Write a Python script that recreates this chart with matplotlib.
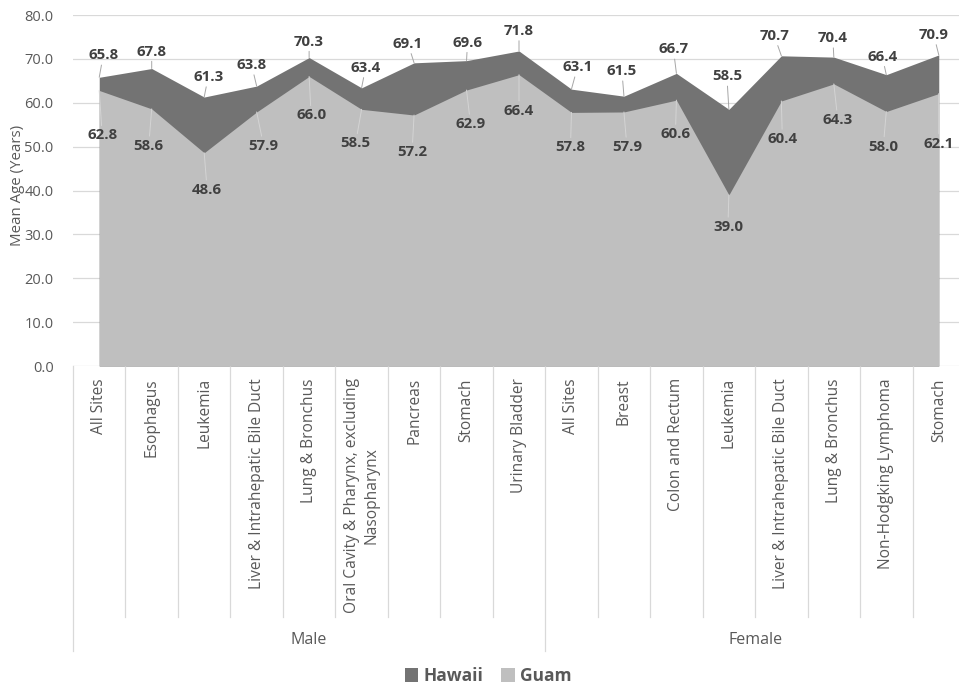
import matplotlib
matplotlib.use("Agg")
import matplotlib.pyplot as plt
from matplotlib.patches import Patch

plt.rcParams['font.family'] = ['Open Sans', 'DejaVu Sans']

categories = ["All Sites", "Esophagus", "Leukemia", "Liver & Intrahepatic Bile Duct",
              "Lung & Bronchus", "Oral Cavity & Pharynx, excluding\nNasopharynx",
              "Pancreas", "Stomach", "Urinary Bladder",
              "All Sites", "Breast", "Colon and Rectum", "Leukemia",
              "Liver & Intrahepatic Bile Duct", "Lung & Bronchus",
              "Non-Hodgking Lymphoma", "Stomach"]
groups = ["Male", "Female"]
group_sizes = [9, 8]

hawaii = [65.8, 67.8, 61.3, 63.8, 70.3, 63.4, 69.1, 69.6, 71.8,
          63.1, 61.5, 66.7, 58.5, 70.7, 70.4, 66.4, 70.9]
guam = [62.8, 58.6, 48.6, 57.9, 66.0, 58.5, 57.2, 62.9, 66.4,
        57.8, 57.9, 60.6, 39.0, 60.4, 64.3, 58.0, 62.1]

# label offsets in pixels (dx, dy; dy positive = downward)
hawaii_off = [(4, -22), (0, -17), (4, -20), (-5, -21), (0, -16), (4, -20), (-6, -19),
              (1, -18), (0, -20), (6, -22), (-2, -25), (-3, -24), (-2, -33), (-7, -20),
              (-1, -19), (-4, -18), (-5, -20)]
guam_off = [(3, 45), (-3, 37), (3, 37), (7, 34), (2, 39), (-6, 34), (-2, 37), (4, 34),
            (0, 36), (-1, 35), (3, 35), (-1, 34), (-1, 32), (1, 38), (4, 36), (-3, 35),
            (0, 50)]

C_HAWAII = "#737373"
C_GUAM = "#bfbfbf"
C_TEXT = "#595959"
C_LABEL = "#404040"
C_GRID = "#d9d9d9"

W, H = 959, 690
fig = plt.figure(figsize=(W / 100, H / 100), dpi=100)
left_px, right_px, top_px, bottom_px = 73, 965, 15, 366
ax = fig.add_axes([left_px / W, 1 - bottom_px / H, (right_px - left_px) / W, (bottom_px - top_px) / H])
ax.set_xlim(-0.5, len(categories) - 0.5)
ax.set_ylim(0, 80)

x = list(range(len(categories)))
ax.fill_between(x, 0, hawaii, color=C_HAWAII, lw=0, zorder=2)
ax.fill_between(x, 0, guam, color=C_GUAM, lw=0, zorder=3)

ax.set_yticks([i * 10 for i in range(9)])
ax.set_yticklabels([f"{i * 10:.1f}" for i in range(9)])
ax.yaxis.grid(True, color=C_GRID, lw=0.9, zorder=1)
ax.set_axisbelow(True)
ax.tick_params(axis='y', length=0, pad=14, labelsize=10.5, labelcolor=C_TEXT)
ax.set_xticks([])
for s in ax.spines.values():
    s.set_visible(False)

# data labels
for i, (v, (dx, dy)) in enumerate(zip(hawaii, hawaii_off)):
    ax.annotate(f"{v:.1f}", xy=(i, v), xytext=(dx, -dy), textcoords='offset pixels',
                ha='center', va='center', fontsize=10.8, fontweight='bold', color=C_LABEL,
                zorder=6, annotation_clip=False,
                arrowprops=dict(arrowstyle='-', color='#a6a6a6', lw=0.7, shrinkA=0, shrinkB=0))
for i, (v, (dx, dy)) in enumerate(zip(guam, guam_off)):
    ax.annotate(f"{v:.1f}", xy=(i, v), xytext=(dx, -dy), textcoords='offset pixels',
                ha='center', va='center', fontsize=10.8, fontweight='bold', color=C_LABEL,
                zorder=6, annotation_clip=False,
                arrowprops=dict(arrowstyle='-', color='#d4d4d4', lw=0.7, shrinkA=0, shrinkB=0))

# multi-level category axis
ax_h = bottom_px - top_px
trans = ax.get_xaxis_transform()
cat_bottom = -(617 - bottom_px) / ax_h
grp_bottom = -(651 - bottom_px) / ax_h
boundaries = []
acc = 0
for g in group_sizes:
    boundaries.append(acc)
    acc += g
boundaries.append(acc)
for i in range(1, len(categories)):
    if i in boundaries:
        continue
    ax.plot([i - 0.5, i - 0.5], [0, cat_bottom], transform=trans, color=C_GRID, lw=0.9, clip_on=False)
for b in boundaries:
    ax.plot([b - 0.5, b - 0.5], [0, grp_bottom], transform=trans, color=C_GRID, lw=0.9, clip_on=False)

lab_y = -(12) / ax_h
for i, c in enumerate(categories):
    ax.text(i, lab_y, c, transform=trans, rotation=90, ha='center', va='top',
            multialignment='center', fontsize=11.2, color=C_TEXT, linespacing=1.25)

grp_y = -(640 - bottom_px) / ax_h
for gi, g in enumerate(groups):
    xc = (boundaries[gi] + boundaries[gi + 1]) / 2 - 0.5
    ax.text(xc, grp_y, g, transform=trans, ha='center', va='center', fontsize=11.5, color=C_TEXT)

fig.text(18 / W, 1 - 185 / H, "Mean Age (Years)", rotation=90, ha='center', va='center',
         fontsize=10.8, color=C_TEXT)

handles = [Patch(facecolor=C_HAWAII, edgecolor='none', label='Hawaii'),
           Patch(facecolor=C_GUAM, edgecolor='none', label='Guam')]
leg = fig.legend(handles=handles, loc='center', bbox_to_anchor=(488 / W, 1 - 676 / H), ncol=2,
                 frameon=False, handlelength=0.8, handleheight=0.8, handletextpad=0.3,
                 columnspacing=1.0, prop={'size': 12.5, 'weight': 'bold'})
for t in leg.get_texts():
    t.set_color(C_TEXT)

fig.savefig("out.png", dpi=100)
